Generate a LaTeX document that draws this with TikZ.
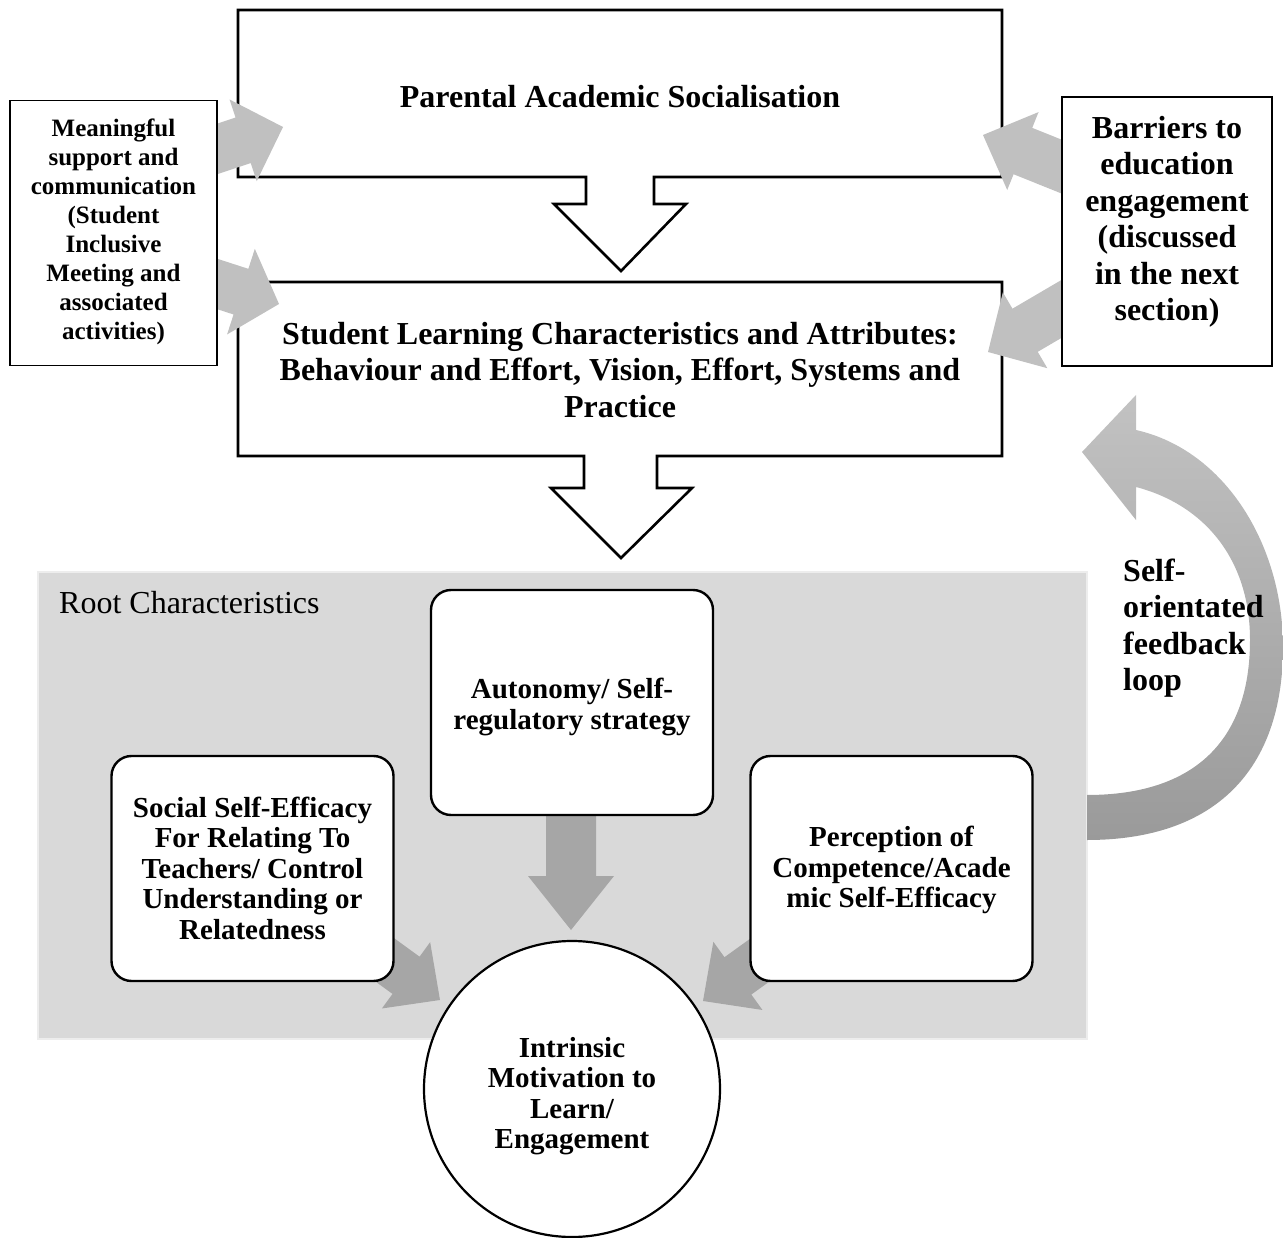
\documentclass[tikz,border=0pt]{standalone}
\usepackage{fontspec}
\setmainfont{Liberation Serif}
\usetikzlibrary{calc}
\definecolor{arrowlight}{HTML}{C0C0C0}
\definecolor{arrowdark}{HTML}{A6A6A6}
\definecolor{rootfill}{HTML}{D9D9D9}
\definecolor{rootedge}{HTML}{EDEDED}
\definecolor{looptop}{HTML}{C2C2C2}
\definecolor{loopbottom}{HTML}{9A9A9A}

% block arrow: #1 colour, #2 tail, #3 tip, #4 half shaft, #5 half head, #6 head length (pt)
\newcommand{\blockarrow}[6]{%
  \fill[#1] let \p1=(#2), \p2=(#3), \n1={atan2(\y2-\y1,\x2-\x1)} in
    ($(#2)+({\n1+90}:#4pt)$)
    -- ($(#3)+({\n1+180}:#6pt)+({\n1+90}:#4pt)$)
    -- ($(#3)+({\n1+180}:#6pt)+({\n1+90}:#5pt)$)
    -- (#3)
    -- ($(#3)+({\n1+180}:#6pt)+({\n1-90}:#5pt)$)
    -- ($(#3)+({\n1+180}:#6pt)+({\n1-90}:#4pt)$)
    -- ($(#2)+({\n1-90}:#4pt)$) -- cycle;}

\begin{document}
\begin{tikzpicture}[x=1pt,y=-1pt,
  bigtext/.style={font=\bfseries\fontsize{32}{36.5}\selectfont, align=center, inner sep=0pt},
  sidetext/.style={font=\bfseries\fontsize{25}{29}\selectfont, align=center, inner sep=0pt},
  flowbox/.style={draw, line width=2.6pt, fill=white, line join=miter},
  sidebox/.style={draw, line width=1.1pt, fill=white, inner sep=0pt},
  roundbox/.style={draw, line width=2.4pt, fill=white, rounded corners=20pt,
    align=center, inner sep=0pt, minimum width=282pt, minimum height=225pt},
  roundtext/.style={font=\bfseries\fontsize{29}{30.5}\selectfont, align=center, inner sep=0pt},
]
\useasboundingbox (0,0) rectangle (1283,1238);

% shaded area holding the root characteristics
\node[fill=rootfill, draw=rootedge, line width=2pt, minimum width=1049pt,
      minimum height=467pt, inner sep=0pt] (root) at (562.5,805.5) {};

% self-orientated feedback loop
\shade[top color=looptop, bottom color=loopbottom]
  (1136,430) .. controls (1225,450) and (1283,545) .. (1283,647)
  .. controls (1283,770) and (1215,840) .. (1087,840)
  -- (1087,795)
  .. controls (1195,795) and (1250,740) .. (1250,640)
  .. controls (1250,560) and (1205,505) .. (1136,487)
  -- (1136,520) -- (1082,452) -- (1136,395) -- cycle;

% arrows into the motivation circle
\coordinate (dA) at (571,800);  \coordinate (dAt) at (571,930);
\coordinate (dS) at (341,928);  \coordinate (dSt) at (440,1000);
\coordinate (dP) at (803,929);  \coordinate (dPt) at (703,1001);
\blockarrow{arrowdark}{dA}{dAt}{25}{43}{54}
\blockarrow{arrowdark}{dS}{dSt}{23}{41}{42}
\blockarrow{arrowdark}{dP}{dPt}{23}{42}{43}

% root characteristics
\node[roundbox] (auto) at (572,702.5) {};
\node[roundtext] (autotext) at (572,707) {Autonomy/ Self-\\regulatory strategy};
\node[roundbox] (social) at (252.5,868.5) {};
\node[roundtext] (socialtext) at (252.5,868)
  {Social Self-Efficacy\\For Relating To\\Teachers/ Control\\Understanding or\\Relatedness};
\node[roundbox] (percep) at (891.5,868.5) {};
\node[roundtext] (perceptext) at (891.5,870)
  {Perception of\\Competence/Acade\\mic Self-Efficacy};

\node[circle, draw, line width=2.2pt, fill=white, minimum size=296pt, inner sep=0pt] (motiv) at (572,1089) {};
\node[roundtext] (motivtext) at (572,1096)
  {Intrinsic\\Motivation to\\Learn/\\Engagement};

% flow boxes with their built-in down arrows
\draw[flowbox] (238,10) -- (1002,10) -- (1002,177) -- (654,177) -- (654,204)
  -- (686,204) -- (621,271) -- (554,204) -- (586,204) -- (586,177) -- (238,177) -- cycle;
\node[bigtext] (pas) at (620,97) {Parental Academic Socialisation};

\draw[flowbox] (238,282) -- (1002,282) -- (1002,456) -- (657,456) -- (657,488)
  -- (692,488) -- (621,558) -- (551,488) -- (584,488) -- (584,456) -- (238,456) -- cycle;
\node[bigtext] (slc) at (620,370)
  {Student Learning Characteristics and Attributes:\\Behaviour and Effort, Vision, Effort, Systems and\\Practice};

% side influences
\coordinate (sL1) at (205,153);  \coordinate (sL1t) at (283,127);
\coordinate (sL2) at (205,280);  \coordinate (sL2t) at (279,304);
\coordinate (sR1) at (1075,172); \coordinate (sR1t) at (983,135);
\coordinate (sR2) at (1075,301); \coordinate (sR2t) at (988,352);
\blockarrow{arrowlight}{sL1}{sL1t}{24}{43}{42}
\blockarrow{arrowlight}{sL2}{sL2t}{24}{45}{40}
\blockarrow{arrowlight}{sR1}{sR1t}{25}{42}{43}
\blockarrow{arrowlight}{sR2}{sR2t}{25}{44}{43}

\node[sidebox, minimum width=207pt, minimum height=265pt] (support) at (113.5,233) {};
\node[sidetext] (supporttext) at (113.5,232)
  {Meaningful\\support and\\communication\\(Student\\Inclusive\\Meeting and\\associated\\activities)};

\node[sidebox, minimum width=210pt, minimum height=269pt] (barriers) at (1167,231.5) {};
\node[bigtext] (barrierstext) at (1167,222)
  {Barriers to\\education\\engagement\\(discussed\\in the next\\section)};

% labels
\node[anchor=west, inner sep=0pt, font=\fontsize{32}{36}\selectfont] (rootlabel) at (59,603)
  {Root Characteristics};
\node[anchor=west, inner sep=0pt, align=left,
      font=\bfseries\fontsize{32}{36.5}\selectfont] (looptext) at (1123,628)
  {Self-\\orientated\\feedback\\loop};
\end{tikzpicture}
\end{document}
